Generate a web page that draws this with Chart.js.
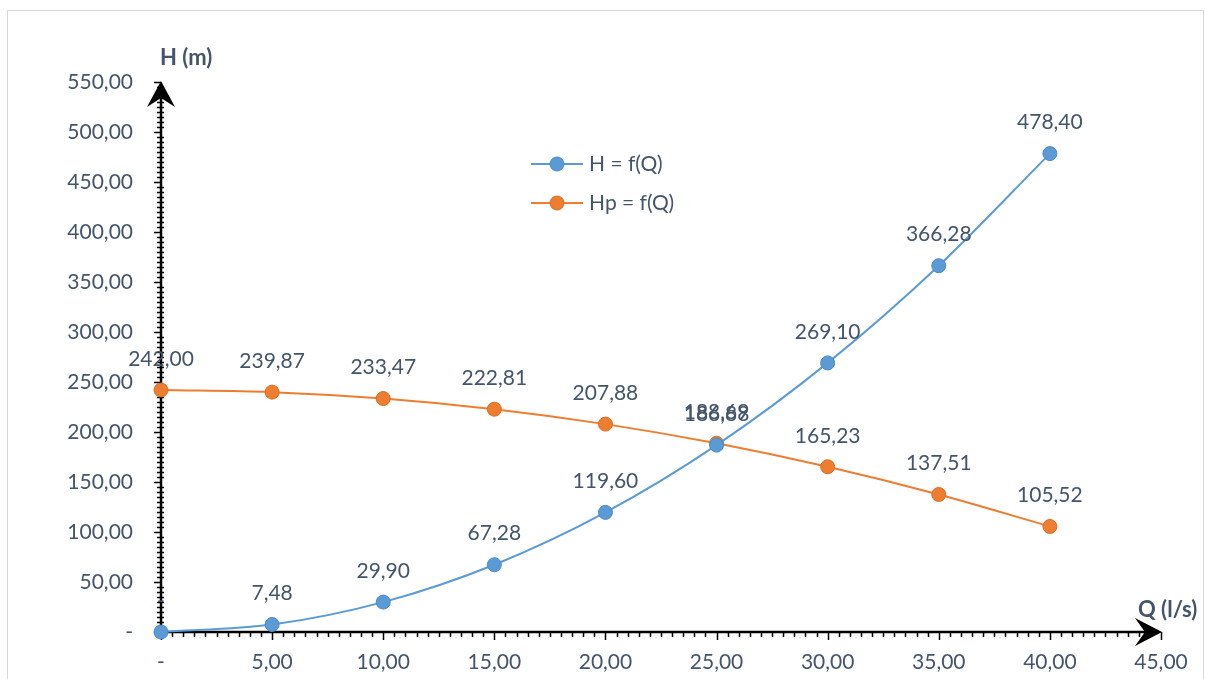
<!DOCTYPE html>
<html>
<head>
<meta charset="utf-8">
<script src="https://cdn.jsdelivr.net/npm/chart.js@4/dist/chart.umd.min.js"></script>
<style>
html,body{margin:0;padding:0;background:#fff;}
canvas{display:block;}
</style>
</head>
<body>
<canvas id="c" width="1206" height="679"></canvas>
<script>
const qValues = [0, 5, 10, 15, 20, 25, 30, 35, 40];
const hValues = [0, 7.48, 29.90, 67.28, 119.60, 186.88, 269.10, 366.28, 478.40];
const hpValues = [242.00, 239.87, 233.47, 222.81, 207.88, 188.69, 165.23, 137.51, 105.52];
const seriesNames = ['H = f(Q)', 'Hp = f(Q)'];
const xTitle = 'Q (l/s)';
const yTitle = 'H (m)';

const TEXT = '#44546A';
const FONT = 'Lato, "Open Sans", sans-serif';
const fmt = v => v === 0 ? '-' : v.toFixed(2).replace('.', ',');
const fmtLabel = v => v === 0 ? '-' : v.toFixed(2).replace('.', ',');

const toPts = ys => qValues.map((q, i) => ({x: q, y: ys[i]}));

const framePlugin = {
  id: 'frame',
  beforeDraw(chart) {
    const ctx = chart.ctx;
    ctx.save();
    ctx.fillStyle = '#fff';
    ctx.fillRect(0, 0, chart.width, chart.height);
    ctx.strokeStyle = '#D9D9D9';
    ctx.lineWidth = 1;
    ctx.strokeRect(7.5, 10.5, 1196, 700);
    ctx.restore();
  }
};

const axesPlugin = {
  id: 'axesArrows',
  beforeDatasetsDraw(chart) {
    const ctx = chart.ctx;
    const xs = chart.scales.x, ys = chart.scales.y;
    const x0 = xs.getPixelForValue(0), xEnd = xs.getPixelForValue(45);
    const y0 = ys.getPixelForValue(0), yEnd = ys.getPixelForValue(550);
    ctx.save();
    ctx.strokeStyle = '#000';
    ctx.fillStyle = '#000';
    ctx.lineWidth = 1.5;
    ctx.beginPath();
    for (let v = 0; v <= 45.0001; v += 0.5) {
      const px = Math.round(xs.getPixelForValue(v)) + 0.5;
      const major = Math.abs(v / 5 - Math.round(v / 5)) < 1e-6;
      ctx.moveTo(px, y0);
      ctx.lineTo(px, y0 + (major ? 8 : 5));
    }
    for (let v = 0; v <= 550.0001; v += 5) {
      const py = Math.round(ys.getPixelForValue(v)) + 0.5;
      const major = Math.abs(v / 50 - Math.round(v / 50)) < 1e-6;
      if (major) { ctx.moveTo(x0 - 7, py); ctx.lineTo(x0, py); }
      else { ctx.moveTo(x0 - 4, py); ctx.lineTo(x0 + 3, py); }
    }
    ctx.stroke();
    ctx.lineWidth = 2.5;
    ctx.beginPath();
    ctx.moveTo(x0, y0); ctx.lineTo(xEnd - 8, y0);
    ctx.moveTo(x0, y0); ctx.lineTo(x0, yEnd + 8);
    ctx.stroke();
    ctx.beginPath();
    ctx.moveTo(x0, yEnd - 1);
    ctx.lineTo(x0 + 14, yEnd + 25);
    ctx.lineTo(x0, yEnd + 16);
    ctx.lineTo(x0 - 14, yEnd + 25);
    ctx.closePath();
    ctx.fill();
    ctx.beginPath();
    ctx.moveTo(xEnd + 1, y0);
    ctx.lineTo(xEnd - 26, y0 - 14);
    ctx.lineTo(xEnd - 16, y0);
    ctx.lineTo(xEnd - 26, y0 + 14);
    ctx.closePath();
    ctx.fill();
    ctx.fillStyle = TEXT;
    ctx.font = 'bold 22px ' + FONT;
    ctx.textBaseline = 'middle';
    ctx.textAlign = 'left';
    ctx.fillText(yTitle, x0 - 1, 58);
    ctx.fillText(xTitle, xEnd - 23, 610);
    ctx.restore();
  }
};

const labelsPlugin = {
  id: 'pointLabels',
  afterDatasetsDraw(chart) {
    const ctx = chart.ctx;
    ctx.save();
    ctx.font = '21px ' + FONT;
    ctx.fillStyle = TEXT;
    ctx.textAlign = 'center';
    ctx.textBaseline = 'middle';
    chart.data.datasets.forEach((ds, di) => {
      const meta = chart.getDatasetMeta(di);
      meta.data.forEach((el, i) => {
        const v = ds.data[i].y;
        ctx.fillText(fmtLabel(v), el.x, el.y - 31);
      });
    });
    ctx.restore();
  }
};

const legendPlugin = {
  id: 'customLegend',
  afterDraw(chart) {
    const ctx = chart.ctx;
    ctx.save();
    const rows = [164, 203];
    chart.data.datasets.forEach((ds, i) => {
      const y = rows[i];
      ctx.strokeStyle = ds.borderColor;
      ctx.lineWidth = 2;
      ctx.beginPath();
      ctx.moveTo(531, y); ctx.lineTo(583, y);
      ctx.stroke();
      ctx.beginPath();
      ctx.arc(557, y, 7, 0, Math.PI * 2);
      ctx.fillStyle = ds.pointBackgroundColor;
      ctx.fill();
      ctx.strokeStyle = ds.pointBorderColor;
      ctx.lineWidth = 1;
      ctx.stroke();
      ctx.fillStyle = TEXT;
      ctx.font = '21px ' + FONT;
      ctx.textAlign = 'left';
      ctx.textBaseline = 'middle';
      ctx.fillText(ds.label, 589, y);
    });
    ctx.restore();
  }
};

new Chart(document.getElementById('c'), {
  type: 'scatter',
  data: {
    datasets: [
      {
        label: seriesNames[0],
        data: toPts(hValues),
        showLine: true,
        borderColor: '#5B9BD5',
        borderWidth: 2,
        backgroundColor: '#5B9BD5',
        pointBackgroundColor: '#5B9BD5',
        pointBorderColor: '#4A8AC8',
        pointBorderWidth: 1,
        pointRadius: 7,
        tension: 0.4,
        cubicInterpolationMode: 'monotone'
      },
      {
        label: seriesNames[1],
        data: toPts(hpValues),
        showLine: true,
        borderColor: '#ED7D31',
        borderWidth: 2,
        backgroundColor: '#ED7D31',
        pointBackgroundColor: '#ED7D31',
        pointBorderColor: '#DC6C20',
        pointBorderWidth: 1,
        pointRadius: 7,
        tension: 0.4,
        cubicInterpolationMode: 'monotone'
      }
    ]
  },
  options: {
    responsive: false,
    animation: false,
    clip: false,
    layout: { padding: { left: 0, top: 82, right: 45, bottom: 0 } },
    plugins: { legend: { display: false }, tooltip: { enabled: false } },
    scales: {
      x: {
        type: 'linear', min: 0, max: 45,
        grid: { display: false, drawTicks: false },
        border: { display: false },
        ticks: { stepSize: 5, padding: 18, color: TEXT, font: { family: FONT, size: 21 }, callback: v => fmt(v), maxRotation: 0, autoSkip: false },
        afterFit: s => { s.height = 47; }
      },
      y: {
        type: 'linear', min: 0, max: 550,
        grid: { display: false, drawTicks: false },
        border: { display: false },
        ticks: { stepSize: 50, padding: 28, color: TEXT, font: { family: FONT, size: 21 }, callback: v => fmt(v), autoSkip: false },
        afterFit: s => { s.width = 161; }
      }
    }
  },
  plugins: [framePlugin, axesPlugin, labelsPlugin, legendPlugin]
});
</script>
</body>
</html>
